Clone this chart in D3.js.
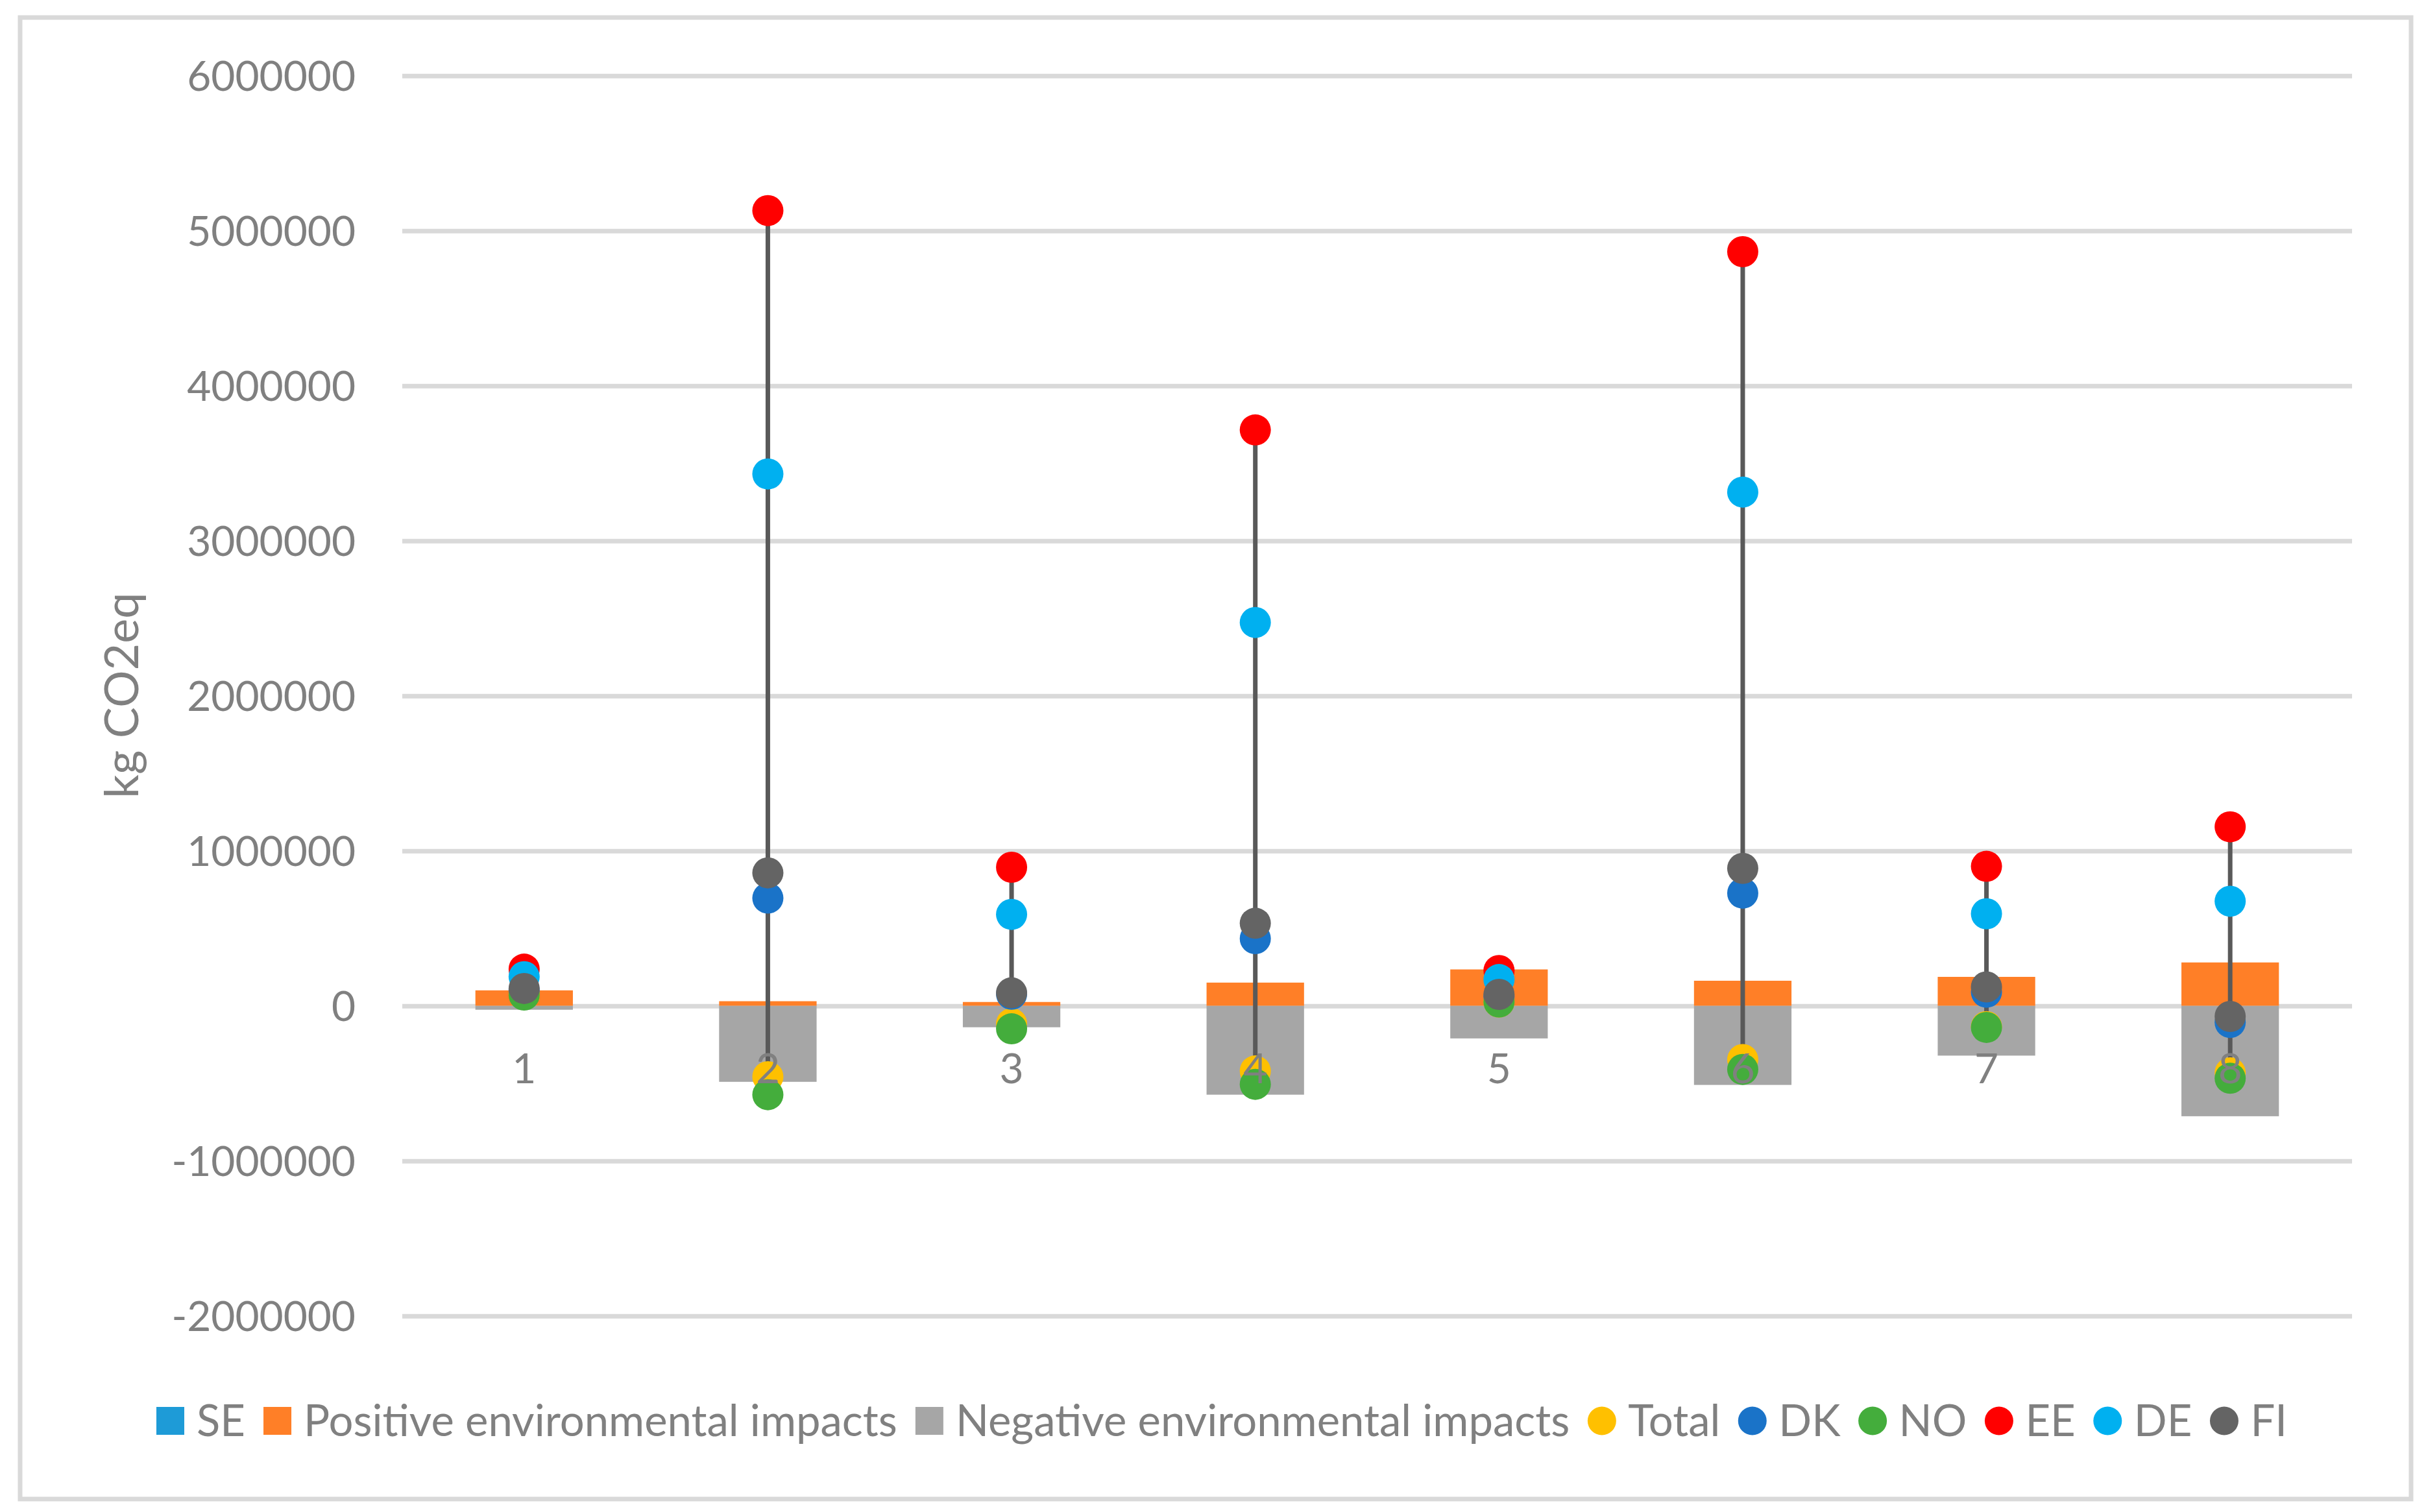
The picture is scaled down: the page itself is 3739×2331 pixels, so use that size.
<!DOCTYPE html>
<html>
<head>
<meta charset="utf-8">
<script src="https://cdn.jsdelivr.net/npm/d3@7"></script>
<style>
  html, body { margin: 0; padding: 0; background: #fff; }
  svg { display: block; }
  text { font-family: Lato, "Open Sans", sans-serif; fill: #808080; }
</style>
</head>
<body>
<svg id="chart" width="3739" height="2331"></svg>
<script>
// ---------------- data ----------------
const categories = ["1", "2", "3", "4", "5", "6", "7", "8"];
const yTicks = [-2000000, -1000000, 0, 1000000, 2000000, 3000000, 4000000, 5000000, 6000000];

const SE       = [0, 0, 0, 0, 0, 0, 0, 0];
const positive = [100000, 30000, 25000, 150000, 235000, 162000, 187000, 280000];
const negative = [-25000, -490000, -138000, -573000, -210000, -510000, -321000, -712000];

const Total = [75000, -457000, -115000, -420000, 25000, -346000, -134000, -432000];
const DK    = [100000, 695000, 75000, 434000, 60000, 727000, 88000, -107000];
const NO    = [70000, -573000, -148000, -506000, 25000, -410000, -139000, -467000];
const EE    = [237000, 5130000, 894000, 3715000, 228000, 4865000, 900000, 1155000];
const DE    = [188000, 3431000, 590000, 2473000, 170000, 3314000, 594000, 675000];
const FI    = [112000, 858000, 84000, 533000, 74000, 887000, 122000, -68000];

const barSeries = [
  { name: "SE", values: SE, color: "#1E9BD7" },
  { name: "Positive environmental impacts", values: positive, color: "#FF7F27" },
  { name: "Negative environmental impacts", values: negative, color: "#A6A6A6" }
];
const pointSeries = [
  { name: "Total", values: Total, color: "#FFC000" },
  { name: "DK", values: DK, color: "#1A73C8" },
  { name: "NO", values: NO, color: "#44AD3C" },
  { name: "EE", values: EE, color: "#FF0000" },
  { name: "DE", values: DE, color: "#00B0F0" },
  { name: "FI", values: FI, color: "#646464" }
];

// ---------------- layout ----------------
const svg = d3.select("#chart");
const plot = { left: 620, right: 3625, top: 116.7, bottom: 2028.7 };

svg.append("rect").attr("x", 31).attr("y", 27).attr("width", 3685).attr("height", 2284)
  .attr("fill", "#fff").attr("stroke", "#D9D9D9").attr("stroke-width", 7);

const x = d3.scaleBand().domain(categories).range([plot.left, plot.right])
  .paddingInner(0.6).paddingOuter(0.3);
const y = d3.scaleLinear().domain([-2000000, 6000000]).range([plot.bottom, plot.top]);

// gridlines + y labels
const yAxis = d3.axisLeft(y).tickValues(yTicks).tickSize(0).tickPadding(0)
  .tickFormat(d => String(d));
const gy = svg.append("g").attr("transform", `translate(${plot.left},0)`).call(yAxis);
gy.select(".domain").remove();
gy.selectAll(".tick line").attr("x1", 0).attr("x2", plot.right - plot.left)
  .attr("stroke", "#D9D9D9").attr("stroke-width", 7);
gy.selectAll(".tick text").attr("x", -72).attr("dy", "0.36em")
  .attr("font-size", 64).attr("font-family", "Lato").attr("fill", "#808080");

// stacked bars (diverging)
const table = categories.map((c, i) => {
  const o = { cat: c };
  barSeries.forEach(s => o[s.name] = s.values[i]);
  return o;
});
const stack = d3.stack().keys(barSeries.map(s => s.name)).offset(d3.stackOffsetDiverging);
const stacked = stack(table);
svg.append("g").selectAll("g").data(stacked).join("g")
  .attr("fill", (d, i) => barSeries[i].color)
  .selectAll("rect").data(d => d).join("rect")
  .attr("x", d => x(d.data.cat))
  .attr("width", x.bandwidth())
  .attr("y", d => y(Math.max(d[0], d[1])))
  .attr("height", d => Math.abs(y(d[0]) - y(d[1])));

// high-low lines
const cx = c => x(c) + x.bandwidth() / 2;
svg.append("g").selectAll("line").data(categories).join("line")
  .attr("x1", d => cx(d)).attr("x2", d => cx(d))
  .attr("y1", (d, i) => y(d3.max(pointSeries, s => s.values[i])))
  .attr("y2", (d, i) => y(d3.min(pointSeries, s => s.values[i])))
  .attr("stroke", "#595959").attr("stroke-width", 7);

// markers
pointSeries.forEach(s => {
  svg.append("g").selectAll("circle").data(s.values).join("circle")
    .attr("cx", (d, i) => cx(categories[i]))
    .attr("cy", d => y(d))
    .attr("r", 24)
    .attr("fill", s.color);
});

// category labels (drawn on top, next to zero line)
svg.append("g").selectAll("text").data(categories).join("text")
  .attr("x", d => cx(d))
  .attr("y", y(0) + 96)
  .attr("dy", "0.36em")
  .attr("text-anchor", "middle")
  .attr("font-size", 64)
  .text(d => d);

// y axis title
svg.append("text")
  .attr("transform", `translate(213,1072) rotate(-90)`)
  .attr("text-anchor", "middle")
  .attr("font-size", 72)
  .text("kg CO2eq");

// legend
const legendItems = [
  ...barSeries.map(s => ({ name: s.name, color: s.color, type: "rect" })),
  ...pointSeries.map(s => ({ name: s.name, color: s.color, type: "circle" }))
];
const lg = svg.append("g");
let lx = 241;
const ly = 2190.5, sym = 43, gapText = 19, gapItem = 28;
legendItems.forEach(it => {
  if (it.type === "rect") {
    lg.append("rect").attr("x", lx).attr("y", ly - sym / 2).attr("width", sym).attr("height", sym)
      .attr("fill", it.color);
  } else {
    lg.append("circle").attr("cx", lx + sym / 2).attr("cy", ly).attr("r", 22).attr("fill", it.color);
  }
  lx += sym + gapText;
  const t = lg.append("text").attr("x", lx).attr("y", ly + 23)
    .attr("font-size", 67).text(it.name);
  lx += t.node().getComputedTextLength() + gapItem;
});
</script>
</body>
</html>
